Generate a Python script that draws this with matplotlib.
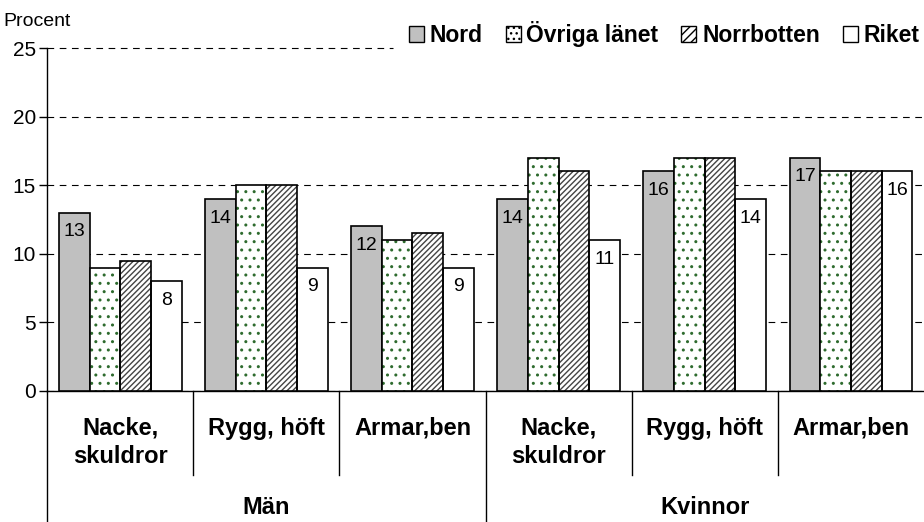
import numpy as np
import matplotlib.pyplot as plt
from matplotlib.patches import Patch
from matplotlib.transforms import blended_transform_factory

plt.rcParams['font.family'] = ['Liberation Sans', 'DejaVu Sans']

# data
categories = ['Nacke,\nskuldror', 'Rygg, höft', 'Armar,ben',
              'Nacke,\nskuldror', 'Rygg, höft', 'Armar,ben']
groups = ['Män', 'Kvinnor']
nord = [13, 14, 12, 14, 16, 17]
ovriga = [9, 15, 11, 17, 17, 16]
norrbotten = [9.5, 15, 11.5, 16, 17, 16]
riket = [8, 9, 9, 11, 14, 16]
series_names = ['Nord', 'Övriga länet', 'Norrbotten', 'Riket']

fig = plt.figure(figsize=(9.24, 5.22), dpi=100)
ax = fig.add_axes([0.051, 0.251, 0.949, 0.657])

x = np.arange(len(categories))
w = 0.21

# Nord
b_nord = ax.bar(x - 1.5*w, nord, w, color='#c0c0c0', edgecolor='black', lw=1.2, zorder=3)
# Övriga länet - dotted green
ax.bar(x - 0.5*w, ovriga, w, color='white', edgecolor='#2e6b2e', hatch='..', lw=0, zorder=3)
ax.bar(x - 0.5*w, ovriga, w, fill=False, edgecolor='black', lw=1.2, zorder=4)
# Norrbotten - diagonal hatch
ax.bar(x + 0.5*w, norrbotten, w, color='white', edgecolor='#444444', hatch='//////', lw=0, zorder=3)
ax.bar(x + 0.5*w, norrbotten, w, fill=False, edgecolor='black', lw=1.2, zorder=4)
# Riket
b_riket = ax.bar(x + 1.5*w, riket, w, color='white', edgecolor='black', lw=1.2, zorder=3)

for bars, vals in [(b_nord, nord), (b_riket, riket)]:
    for b, v in zip(bars, vals):
        ax.text(b.get_x() + b.get_width()/2, v - 1.4, '%d' % v, ha='center', va='center',
                fontsize=14, zorder=5)

ax.set_xlim(-0.5, 5.5)
ax.set_ylim(0, 25)
ax.set_yticks([0, 5, 10, 15, 20, 25])
ax.tick_params(axis='y', labelsize=15, length=6, width=1, direction='out', pad=2)
ax.tick_params(axis='x', length=0, labelbottom=False)
ax.yaxis.grid(True, linestyle=(0, (6, 5)), color='black', lw=0.8, zorder=0)
# top gridline stops where the legend begins
ax.get_ygridlines()[-1].set_visible(False)
ax.axhline(25, xmin=0, xmax=0.395, linestyle=(0, (6, 5)), color='black', lw=0.8, zorder=0,
           clip_on=False)
for s in ['top', 'right']:
    ax.spines[s].set_visible(False)
ax.spines['left'].set_linewidth(1)
ax.spines['bottom'].set_linewidth(1)
fig.text(3/924, 1 - 26/522, 'Procent', fontsize=14, ha='left', va='baseline')

# two-level category axis
tr = blended_transform_factory(ax.transData, ax.transAxes)
for i, c in enumerate(categories):
    ax.text(x[i], -0.075, c, transform=tr, ha='center', va='top', fontsize=17,
            fontweight='bold', linespacing=1.3)
for b in [0.5, 1.5, 3.5, 4.5]:
    ax.plot([b, b], [0, -0.245], transform=tr, color='black', lw=1, clip_on=False)
for b in [-0.5, 2.5]:
    ax.plot([b, b], [0, -0.4], transform=tr, color='black', lw=1, clip_on=False)
ax.text(1, -0.34, groups[0], transform=tr, ha='center', va='center', fontsize=17, fontweight='bold')
ax.text(4, -0.34, groups[1], transform=tr, ha='center', va='center', fontsize=17, fontweight='bold')

handles = [Patch(facecolor='#c0c0c0', edgecolor='black'),
           Patch(facecolor='white', edgecolor='black', hatch='...'),
           Patch(facecolor='white', edgecolor='black', hatch='////'),
           Patch(facecolor='white', edgecolor='black')]
fig.legend(handles, series_names, loc='center right', bbox_to_anchor=(0.995, 1 - 34/522), ncol=4,
           frameon=False, prop={'weight': 'bold', 'size': 16.5}, handlelength=0.65,
           handleheight=0.65, handletextpad=0.25, columnspacing=1.0, borderaxespad=0.0,
           borderpad=0.0)

fig.savefig('out.png', dpi=100)
